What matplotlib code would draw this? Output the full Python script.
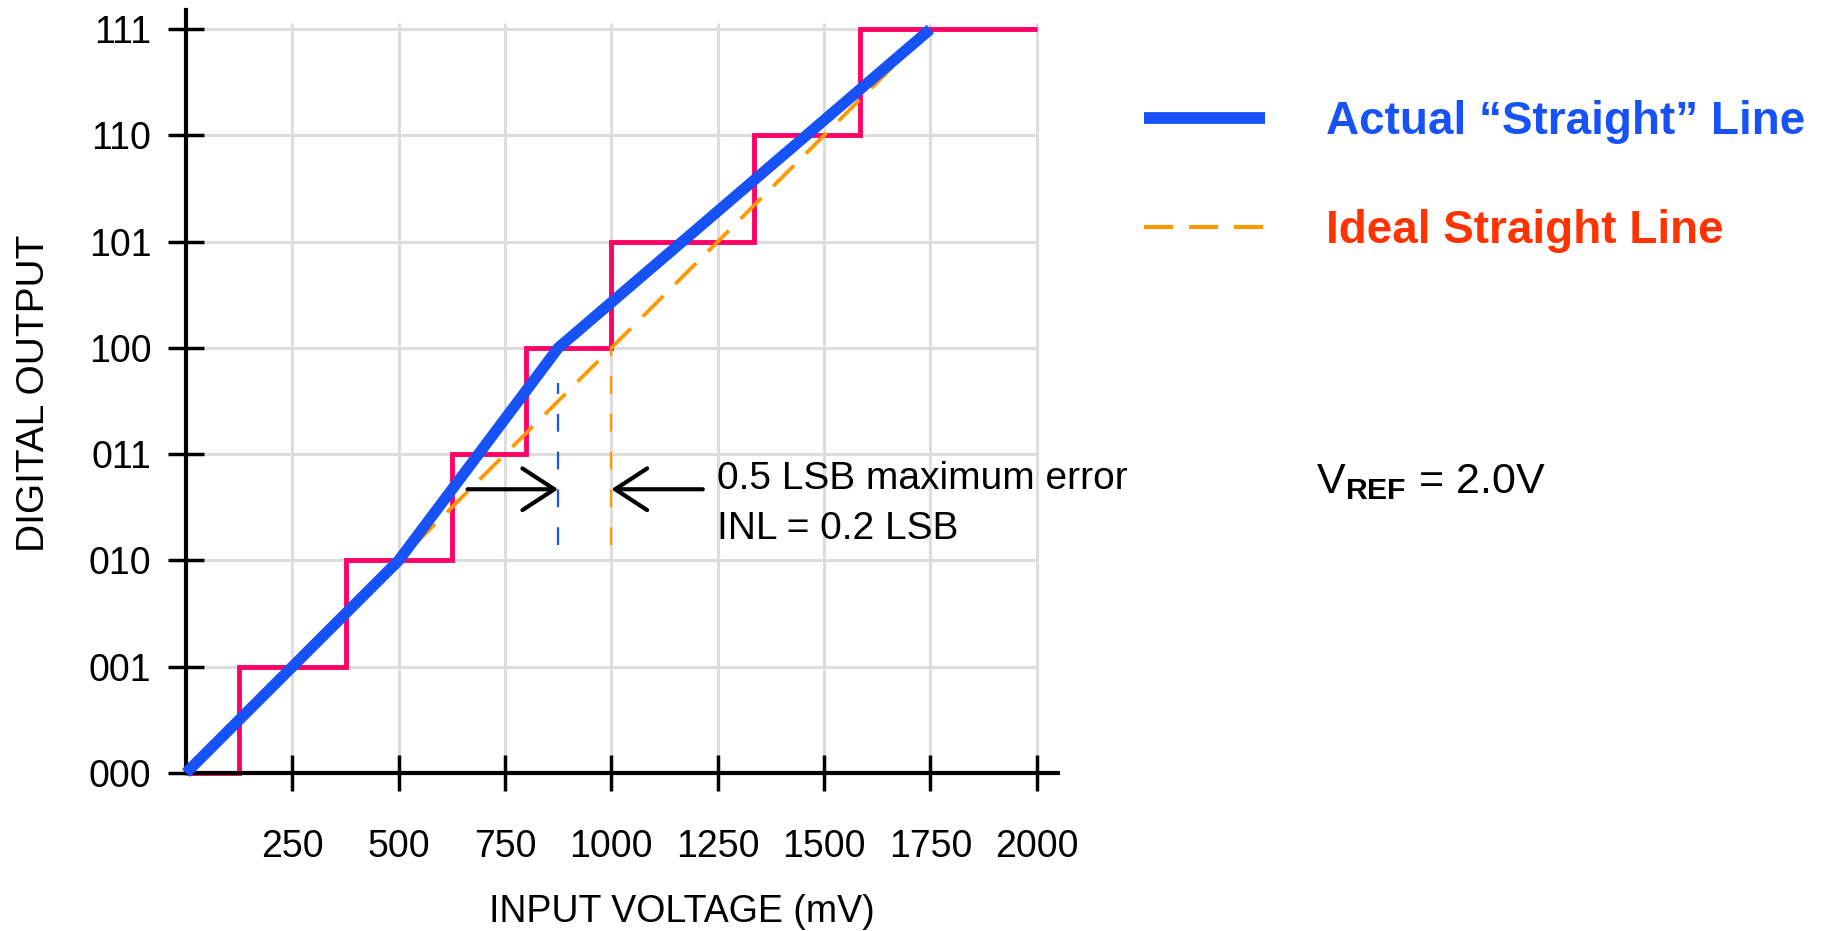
import matplotlib
matplotlib.use("Agg")
import matplotlib.pyplot as plt
from matplotlib.lines import Line2D

plt.rcParams["font.family"] = ["Liberation Sans", "DejaVu Sans"]
plt.rcParams["mathtext.fontset"] = "custom"
plt.rcParams["mathtext.rm"] = "Liberation Sans"
plt.rcParams["mathtext.bf"] = "Liberation Sans:bold"

# codes and axis ticks
codes = [0, 1, 2, 3, 4, 5, 6, 7]
code_labels = ["000", "001", "010", "011", "100", "101", "110", "111"]
voltage_ticks = [250, 500, 750, 1000, 1250, 1500, 1750, 2000]

# ADC transfer staircase (transition voltages in mV)
step_edges = [0, 125, 375, 625, 800, 1000, 1335, 1585, 2000]

# actual and ideal transfer lines
actual_mv = [0, 500, 875, 1750]
actual_code = [0, 2, 4, 7]
ideal_mv = [0, 1750]
ideal_code = [0, 7]

# error markers
actual_mark_mv = 875
actual_mark_span = (2.15, 3.67)
ideal_mark_mv = 1000
ideal_mark_span = (2.15, 4.0)
arrow_code = 2.67
arrow_left_tail = 662
arrow_right_tail = 1215

BLUE = "#1652F5"
ORANGE = "#FF9900"
PINK = "#FF0066"
RED_TEXT = "#FF3300"
GRID = "#DDDDDD"

fig = plt.figure(figsize=(18.21, 9.31), dpi=100)
ax = fig.add_axes([186 / 1821, 1 - 773 / 931, 872 / 1821, 763 / 931])

# grid drawn by hand so it stops at the last tick
ax.hlines(codes[1:], 0, voltage_ticks[-1], color=GRID, lw=2.2, zorder=0)
ax.vlines(voltage_ticks, 0, 7.06, color=GRID, lw=2.2, zorder=0)

ax.stairs(codes, step_edges, baseline=None, color=PINK, lw=3.5, zorder=2,
          clip_on=False)

ax.plot(ideal_mv, ideal_code, color=ORANGE, lw=2.7, dashes=(7.8, 4.5),
        zorder=3)
ax.plot(actual_mv, actual_code, color=BLUE, lw=8, solid_capstyle="butt",
        solid_joinstyle="miter", zorder=4, clip_on=False)

ax.vlines(actual_mark_mv, *actual_mark_span, color=BLUE, lw=1.6,
          linestyles=[(0, (8, 9))], zorder=3)
ax.vlines(ideal_mark_mv, *ideal_mark_span, color=ORANGE, lw=1.6,
          linestyles=[(0, (8, 9))], zorder=3)

arrow_props = dict(arrowstyle="->,head_length=0.46,head_width=0.3",
                   lw=3, color="black", mutation_scale=50,
                   shrinkA=0, shrinkB=0)
ax.annotate("", xy=(actual_mark_mv, arrow_code),
            xytext=(arrow_left_tail, arrow_code), arrowprops=arrow_props)
ax.annotate("", xy=(ideal_mark_mv, arrow_code),
            xytext=(arrow_right_tail, arrow_code), arrowprops=arrow_props)

ax.text(1248, arrow_code, "0.5 LSB maximum error", fontsize=28,
        va="baseline", ha="left")
ax.text(1248, 2.20, "INL = 0.2 LSB", fontsize=28, va="baseline", ha="left")

ax.set_xlim(0, 2050)
ax.set_ylim(0, 7.18)
ax.set_xticks(voltage_ticks)
ax.set_xticklabels([str(v) for v in voltage_ticks], fontsize=27)
ax.set_yticks(codes)
ax.set_yticklabels(code_labels, fontsize=27)
ax.tick_params(direction="inout", length=26, width=2.5, color="black")
ax.tick_params(axis="x", pad=27)
ax.tick_params(axis="y", pad=12)

for side in ["top", "right"]:
    ax.spines[side].set_visible(False)
for side in ["left", "bottom"]:
    ax.spines[side].set_linewidth(3)

ax.set_xlabel("INPUT VOLTAGE (mV)", fontsize=27)
ax.xaxis.set_label_coords(0.569, -0.158)
ax.set_ylabel("DIGITAL OUTPUT", fontsize=28)
ax.yaxis.set_label_coords(-0.154, 0.497)

handles = [
    Line2D([], [], color=BLUE, lw=8.5, solid_capstyle="butt"),
    Line2D([], [], color=ORANGE, lw=3, dashes=(7, 3.8)),
]
legend = fig.legend(
    handles,
    ["Actual \u201cStraight\u201d Line", "Ideal Straight Line"],
    loc="upper left",
    bbox_to_anchor=(1144 / 1821, 1 - 100 / 931),
    frameon=False,
    borderpad=0,
    borderaxespad=0,
    handlelength=2.65,
    handletextpad=1.32,
    labelspacing=1.42,
    prop={"size": 33, "weight": "bold"},
)
for text, color in zip(legend.get_texts(), [BLUE, RED_TEXT]):
    text.set_color(color)

fig.text(1316 / 1821, 1 - 493 / 931, r"V$_{\mathbf{REF}}$ = 2.0V",
         fontsize=31, va="baseline", ha="left")

fig.savefig("out.png", dpi=100)
